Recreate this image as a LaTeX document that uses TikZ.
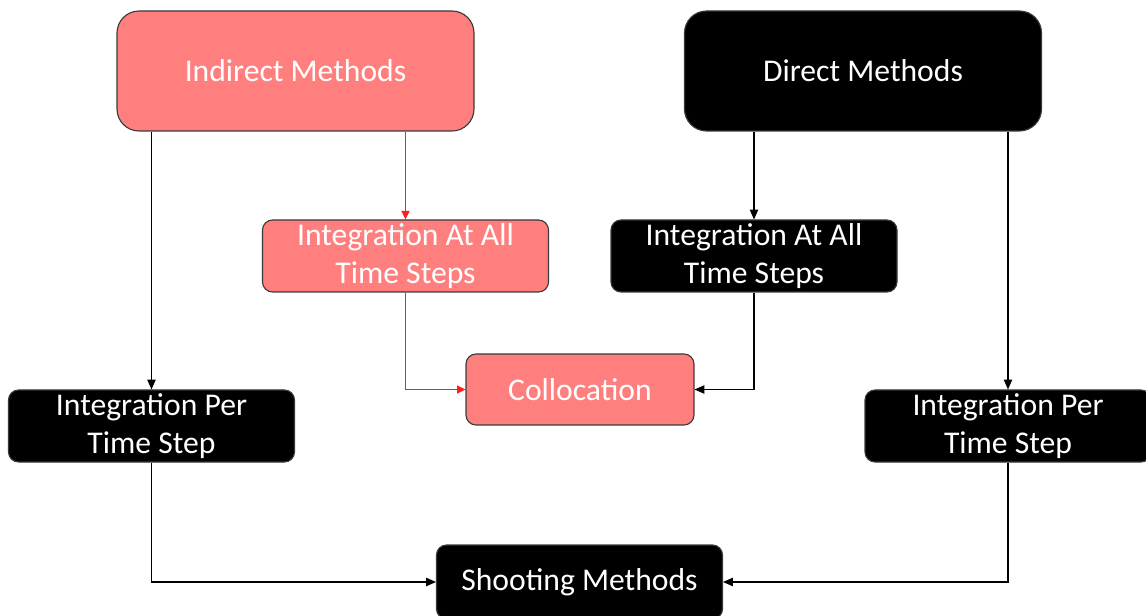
\documentclass[tikz,border=0pt]{standalone}
\usepackage{fontspec}
\setmainfont{Carlito}
\usetikzlibrary{arrows.meta}
\definecolor{salmon}{HTML}{FF7F7F}
\definecolor{edgegray}{HTML}{3A3A3A}
\definecolor{linkred}{RGB}{255,30,30}
\begin{document}
\begin{tikzpicture}[x=0.025cm,y=-0.025cm,
  box/.style={draw=edgegray,line width=0.8pt,text=white,align=center,
    inner sep=0pt,font=\fontsize{22.5}{26.5}\selectfont},
  bigbox/.style={box,rounded corners=0.55cm,minimum width=357*0.025cm,minimum height=120*0.025cm},
  smallbox/.style={box,rounded corners=0.25cm,minimum width=286*0.025cm,minimum height=72*0.025cm},
  redfill/.style={fill=salmon},
  blackfill/.style={fill=black},
  link/.style={line width=0.75pt,-{Triangle[length=7pt,width=6pt]}},
  redlink/.style={color=linkred,line width=1.3pt,-{Triangle[length=6pt,width=5.5pt]}}]
\useasboundingbox (0,0) rectangle (1146,616);

\node[bigbox,redfill]   (ind)  at (295.5,71)  {Indirect Methods};
\node[bigbox,blackfill] (dir)  at (863,71)    {Direct Methods};
\node[smallbox,redfill]   (iall) at (405.5,256) {Integration At All\\Time Steps};
\node[smallbox,blackfill] (dall) at (754,256)   {Integration At All\\Time Steps};
\node[smallbox,redfill,minimum width=228*0.025cm,minimum height=71*0.025cm] (col) at (580,389.5) {Collocation};
\node[smallbox,blackfill] (lper) at (151.5,426) {Integration Per\\Time Step};
\node[smallbox,blackfill] (rper) at (1008,426)  {Integration Per\\Time Step};
\node[smallbox,blackfill,minimum height=74*0.025cm] (shoot) at (579.5,582) {Shooting Methods};

% indirect branch
\draw[link] (ind.south -| lper.north) -- (lper.north);
\draw[redlink] (ind.south -| iall.north) -- (iall.north);
\draw[redlink] (iall.south) |- (col.west);

% direct branch
\draw[link] (dir.south -| dall.north) -- (dall.north);
\draw[link] (dall.south) |- (col.east);
\draw[link] (dir.south -| rper.north) -- (rper.north);

% shooting
\draw[link] (lper.south) |- (shoot.west);
\draw[link] (rper.south) |- (shoot.east);
\end{tikzpicture}
\end{document}
